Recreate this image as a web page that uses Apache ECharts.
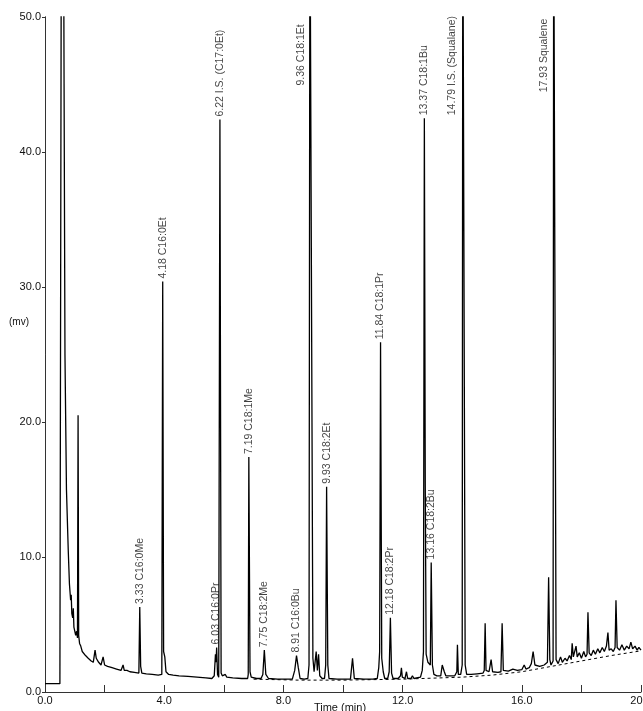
<!DOCTYPE html>
<html><head><meta charset="utf-8">
<script src="https://cdn.jsdelivr.net/npm/echarts@6/dist/echarts.min.js"></script>
<style>html,body{margin:0;padding:0;background:#fff}#c{width:643px;height:711px}</style>
</head><body><div id="c"></div>
<script>
// Chromatogram trace: [time (min), signal (mV)]
const tracePoints = [
[0.00,0.62],[0.50,0.62],[0.53,0.65],[0.55,60],[0.62,60],[0.64,45],[0.67,25],[0.72,15],[0.78,10.5],[0.82,8],[0.86,6.8],[0.88,7.2],[0.90,5.8],[0.93,5.5],[0.95,6.2],[0.97,4.8],[1.00,4.9],[1.03,4.2],[1.06,4.5],[1.09,4.0],[1.11,20.5],[1.13,4.2],[1.16,3.6],[1.20,3.4],[1.25,3.0],[1.30,3.1],[1.36,2.7],[1.45,2.5],[1.55,2.3],[1.62,2.2],[1.68,3.1],[1.72,2.5],[1.80,2.2],[1.88,2.0],[1.95,2.6],[2.00,2.0],[2.10,1.9],[2.25,1.8],[2.40,1.7],[2.55,1.6],[2.62,2.0],[2.66,1.6],[2.75,1.6],[2.80,1.7],[2.85,1.5],[3.00,1.45],[3.15,1.4],[3.18,6.3],[3.21,1.9],[3.25,1.4],[3.40,1.35],[3.60,1.3],[3.80,1.25],[3.92,1.3],[3.95,30.4],[3.98,3.0],[4.02,2.6],[4.06,1.5],[4.15,1.3],[4.30,1.25],[4.50,1.2],[4.80,1.15],[5.10,1.1],[5.40,1.05],[5.60,1.0],[5.68,1.2],[5.72,2.8],[5.74,2.2],[5.76,3.3],[5.79,1.3],[5.83,1.1],[5.87,42.4],[5.91,1.4],[5.95,1.2],[6.05,1.3],[6.10,1.1],[6.30,1.05],[6.60,1.0],[6.80,1.0],[6.82,1.3],[6.84,17.4],[6.88,1.5],[6.92,1.1],[7.10,1.0],[7.25,1.0],[7.31,1.3],[7.36,3.1],[7.41,1.3],[7.50,1.0],[7.80,0.95],[8.10,0.95],[8.30,0.95],[8.38,1.6],[8.44,2.7],[8.50,1.8],[8.56,1.0],[8.70,0.95],[8.82,1.0],[8.86,2.0],[8.89,60],[8.95,60],[8.99,2.5],[9.03,1.5],[9.10,3.0],[9.14,1.6],[9.18,2.8],[9.22,1.2],[9.30,1.0],[9.38,1.0],[9.42,2.0],[9.45,15.2],[9.49,2.0],[9.53,1.0],[9.80,0.95],[10.10,0.95],[10.25,0.95],[10.32,2.5],[10.38,1.0],[10.70,0.95],[11.00,0.95],[11.15,1.0],[11.20,1.8],[11.23,3.0],[11.26,25.9],[11.30,2.5],[11.35,1.5],[11.40,1.0],[11.50,1.0],[11.55,1.5],[11.59,5.5],[11.63,1.4],[11.68,1.0],[11.85,1.0],[11.93,1.2],[11.96,1.8],[11.99,1.1],[12.08,1.0],[12.13,1.5],[12.17,1.0],[12.28,1.0],[12.33,1.2],[12.38,1.0],[12.60,1.1],[12.66,1.6],[12.70,3.0],[12.73,42.5],[12.76,15.5],[12.79,2.8],[12.85,2.2],[12.93,2.0],[12.96,9.6],[13.00,2.0],[13.05,1.3],[13.15,1.2],[13.28,1.2],[13.33,2.0],[13.40,1.5],[13.45,1.2],[13.75,1.2],[13.82,1.5],[13.84,3.5],[13.87,1.3],[13.95,1.3],[14.00,2.0],[14.02,60],[14.07,60],[14.10,2.0],[14.15,1.3],[14.30,1.3],[14.50,1.35],[14.70,1.4],[14.74,1.6],[14.77,5.1],[14.80,1.6],[14.90,1.5],[14.97,2.4],[15.02,1.5],[15.20,1.45],[15.30,1.5],[15.34,5.1],[15.38,1.6],[15.55,1.55],[15.70,1.7],[15.85,1.6],[16.00,1.65],[16.08,2.0],[16.14,1.7],[16.25,1.8],[16.32,2.1],[16.38,3.0],[16.44,2.0],[16.60,1.9],[16.75,2.0],[16.86,2.2],[16.90,8.5],[16.94,2.4],[16.98,2.0],[17.05,2.3],[17.07,60],[17.12,60],[17.15,2.4],[17.22,2.1],[17.30,2.6],[17.36,2.2],[17.45,2.5],[17.52,2.3],[17.60,2.7],[17.66,2.4],[17.69,3.6],[17.73,2.6],[17.78,2.7],[17.82,3.4],[17.86,2.6],[17.93,2.9],[18.00,2.5],[18.08,3.0],[18.14,2.6],[18.19,2.8],[18.22,5.9],[18.26,2.9],[18.33,2.7],[18.40,3.1],[18.47,2.8],[18.55,3.2],[18.62,2.9],[18.70,3.3],[18.77,3.0],[18.84,3.4],[18.89,4.4],[18.93,3.1],[19.00,3.2],[19.07,3.0],[19.13,3.3],[19.16,6.8],[19.20,3.3],[19.28,3.1],[19.36,3.5],[19.44,3.1],[19.52,3.4],[19.60,3.2],[19.66,3.7],[19.72,3.2],[19.80,3.4],[19.87,3.1],[19.93,3.3],[20.00,3.1]
];
// Integration baseline (dashed)
const baselinePoints = [[7.0,0.95],[8.5,0.88],[10.0,0.88],[12.0,0.95],[14.0,1.1],[15.0,1.25],[16.0,1.5],[17.0,1.9],[18.0,2.3],[19.0,2.7],[20.0,3.05]];
// Peak annotations
const peakNames = ["3.33 C16:0Me","4.18 C16:0Et","6.03 C16:0Pr","6.22 I.S. (C17:0Et)","7.19 C18:1Me","7.75 C18:2Me","8.91 C16:0Bu","9.36 C18:1Et","9.93 C18:2Et","11.84 C18:1Pr","12.18 C18:2Pr","13.37 C18:1Bu","13.16 C18:2Bu","14.79 I.S. (Squalane)","17.93 Squalene"];
const peakLabelTime = [3.18,3.95,5.74,5.87,6.84,7.36,8.44,8.58,9.45,11.26,11.59,12.73,12.96,13.67,16.75];
const peakLabelMv = [6.3,30.4,3.3,42.4,17.4,3.1,2.7,44.7,15.2,25.9,5.5,42.5,9.6,42.5,44.2];
const yTicks = [0,10,20,30,40,50];
const xLabelEvery = 4;
const xTitle = 'Time (min)';
const yTitle = '(mv)';

const chart = echarts.init(document.getElementById('c'), null, {renderer:'canvas'});
const font = 'Liberation Sans';
const frameAxisX = {type:'value',min:0,max:20,position:'top',axisLine:{show:true,lineStyle:{color:'#333',width:1}},
  axisTick:{show:false},axisLabel:{show:false},splitLine:{show:false}};
const frameAxisY = {type:'value',min:0,max:50,position:'right',axisLine:{show:true,lineStyle:{color:'#333',width:1}},
  axisTick:{show:false},axisLabel:{show:false},splitLine:{show:false}};
chart.setOption({
  animation:false,
  backgroundColor:'#fff',
  grid:{left:45,right:2,top:17,bottom:19,show:false,containLabel:false,outerBoundsMode:'none'},
  xAxis:[{type:'value',min:0,max:20,interval:2,position:'bottom',
    axisLine:{show:false},
    axisTick:{inside:true,length:7,lineStyle:{color:'#333'}},
    axisLabel:{fontFamily:font,fontSize:11,color:'#111',margin:3,hideOverlap:false,
      formatter:v=> (Math.round(v)%xLabelEvery===0? v.toFixed(1):'')},
    splitLine:{show:false}}, frameAxisX],
  yAxis:[{type:'value',min:yTicks[0],max:yTicks[yTicks.length-1],interval:10,
    axisLine:{show:true,lineStyle:{color:'#333',width:1}},
    axisTick:{show:true,length:3,lineStyle:{color:'#333'}},
    axisLabel:{fontFamily:font,fontSize:11,color:'#111',margin:4,formatter:v=>v.toFixed(1)},
    splitLine:{show:false}}, frameAxisY],
  graphic:[
    {type:'text',left:9,top:317,style:{text:yTitle,font:'10px '+font,fill:'#111'}},
    {type:'text',x:340,y:702,style:{text:xTitle,font:'11px '+font,fill:'#111',align:'center',verticalAlign:'top'}}
  ],
  series:[
    {type:'line',data:tracePoints,showSymbol:false,lineStyle:{color:'#000',width:1.3},clip:true,z:3},
    {type:'line',data:baselinePoints,showSymbol:false,lineStyle:{color:'#000',width:1,type:[3,3]},clip:true,z:2},
    {type:'scatter',symbolSize:0,z:4,
      data:peakNames.map((n,i)=>({name:n,value:[peakLabelTime[i],peakLabelMv[i]]})),
      label:{show:true,position:'top',distance:3,rotate:90,align:'left',verticalAlign:'middle',
        fontFamily:font,fontSize:10.5,color:'#111',formatter:p=>p.name}}
  ]
});
</script></body></html>
